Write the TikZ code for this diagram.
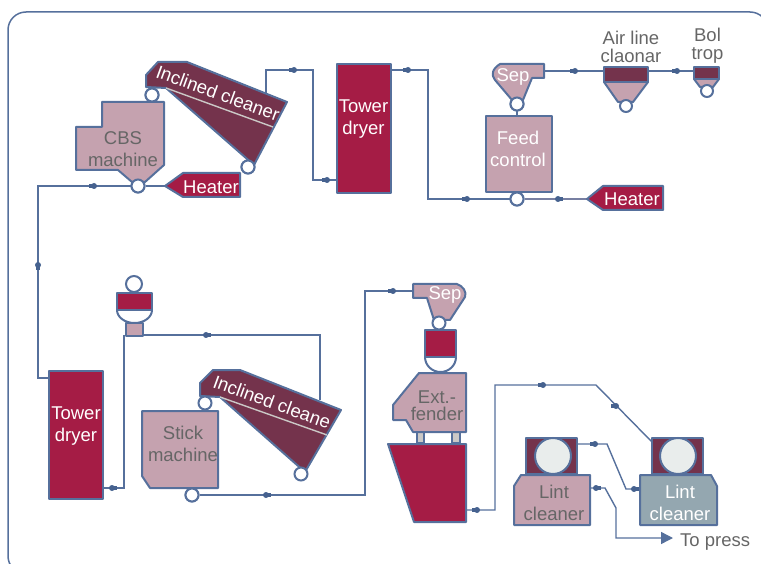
\documentclass[tikz,border=0pt]{standalone}
\usepackage{fontspec}
\usetikzlibrary{arrows.meta}
\setmainfont{Liberation Sans}
\definecolor{edge}{HTML}{56709C}
\definecolor{dotc}{HTML}{46628F}
\definecolor{pinkf}{HTML}{C5A2AF}
\definecolor{crim}{HTML}{A51C45}
\definecolor{maroon}{HTML}{74334C}
\definecolor{slate}{HTML}{94A7B0}
\definecolor{txt}{HTML}{666666}
\definecolor{bar}{HTML}{CBC8C6}
\definecolor{disc}{HTML}{E9EDEC}
\tikzset{
 x=1pt,y=-1pt,
 part/.style={draw=edge,line width=2pt,line join=round},
 pinkpart/.style={part,fill=pinkf},
 crimpart/.style={part,fill=crim},
 darkpart/.style={part,fill=maroon},
 conn/.style={draw=edge,line width=1.4pt},
 ring/.style={circle,draw=edge,line width=2pt,fill=white,inner sep=0pt,minimum size=13pt},
 bigdisc/.style={circle,draw=edge,line width=2pt,fill=disc,inner sep=0pt,minimum size=36pt},
 lbl/.style={font=\fontsize{18.5}{20}\selectfont,inner sep=0pt,text=txt,align=center},
 wlbl/.style={lbl,text=white},
 beadr/.pic={\fill[dotc] (0,0) circle (3pt); \fill[dotc] (-5,-1.6) rectangle (0,1.6);},
 beadl/.pic={\fill[dotc] (0,0) circle (3pt); \fill[dotc] (5,-1.6) rectangle (0,1.6);},
 beadu/.pic={\fill[dotc] (0,0) circle (3pt); \fill[dotc] (-1.6,0) rectangle (1.6,5);},
}
\begin{document}
\begin{tikzpicture}
\useasboundingbox (0,0) rectangle (761,564);
\begin{scope}
\clip (0,0) rectangle (761,564);
\draw[edge,line width=1.5pt,rounded corners=18pt] (8,12) rectangle (768,574);
\end{scope}
% junction coordinates
\coordinate (topleft) at (38,186);
\coordinate (td1in) at (337,180);
\coordinate (td1out) at (391,70);
\coordinate (td2in) at (49,378);
\coordinate (td2out) at (103,488);
% ---- top connectors (behind parts)
\node[ring] (cbsc) at (138,186) {};
\node[ring] (ic1top) at (152,95) {};
\node[ring] (ic1bot) at (248,167) {};
\node[ring] (feedc) at (517,199) {};
\node[ring] (sep1c) at (517,104) {};
\coordinate (h1tip) at (165,186);
\coordinate (h2tip) at (587,199);
\draw[conn] (cbsc.west) -- (topleft) -- (38,378) -- (td2in);
\draw[conn] (cbsc.east) -- (h1tip);
\draw[conn] (266,95) -- (266,70) -- (313,70) -- (313,180) -- (td1in);
\draw[conn] (td1out) -- (428,70) -- (428,199) -- (feedc.west);
\draw[conn,draw=edge!70!pinkf] (feedc.east) -- (h2tip);
\draw[conn] (sep1c.south) -- (517,116);
\coordinate (sep1out) at (544,71);
\coordinate (airin) at (604,71);
\coordinate (airout) at (648,71);
\coordinate (bolin) at (694,71);
\draw[conn] (sep1out) -- (airin);
\draw[conn] (airout) -- (bolin);
\pic at (94,186) {beadr};
\pic at (38,265) {beadu};
\pic at (294,70) {beadr};
\pic at (327,180) {beadr};
\pic at (408,70) {beadr};
\pic at (467,199) {beadr};
\pic at (558,199) {beadl};
\pic at (575,71) {beadr};
\pic at (677,71) {beadr};
% ---- CBS machine, cleaner, heater
\draw[pinkpart] (102,102) -- (164,102) -- (164,165) -- (145,182) -- (132,182) -- (118,170) -- (76,170) -- (76,127) -- (102,127) -- cycle;
\node[ring] at (138,186) {};
\node[lbl] (cbs) at (123,138) {CBS};
\node[lbl] (cbs2) at (123,160) {machine};
\draw[darkpart] (146,75) -- (158,62) -- (187,62) -- (287,102) -- (254,165) -- (166,88) -- (146,87) -- cycle;
\draw[bar,line width=1.4pt] (166,88) -- (273,127);
\node[ring] at (152,95) {};
\node[ring] at (248,167) {};
\node[wlbl,rotate=-20] (ic1) at (218,93) {Inclined cleaner};
\draw[crimpart] (165,186) -- (183,173) -- (240,173) -- (240,197) -- (183,197) -- cycle;
\node[wlbl] (h1) at (211,187) {Heater};
% ---- tower dryer 1
\draw[crimpart] (337,64) rectangle (391,193);
\node[wlbl,font=\fontsize{18.5}{22}\selectfont] (td1) at (363.5,119) {Tower\\dryer};
% ---- feed control
\draw[pinkpart] (486,116) rectangle (552,192);
\node[wlbl,font=\fontsize{18.5}{22}\selectfont] (feed) at (518,149) {Feed\\control};
\draw[pinkpart] (500,64) -- (544,64) -- (544,78) -- (532,78) -- (523,100) -- (512,100) -- (495,80) .. controls (491,75) and (492,69) .. (500,64) -- cycle;
\node[ring] at (517,104) {};
\node[ring] at (517,199) {};
\node[wlbl] (sep1) at (513,77) {Sep};
\draw[crimpart] (587,199) -- (603,186) -- (663,186) -- (663,210) -- (603,210) -- cycle;
\node[wlbl] (h2) at (632,199) {Heater};
% ---- air line
\draw[pinkpart] (604,82) -- (648,82) -- (633,102) -- (618,102) -- cycle;
\draw[darkpart] (604,67) rectangle (648,82);
\node[ring,minimum size=12pt] (airc) at (626,106) {};
\node[lbl,font=\fontsize{18.5}{18}\selectfont] (air) at (631,47) {Air line\\claonar};
\draw[pinkpart] (694,79) -- (719,79) -- (713,87) -- (700,87) -- cycle;
\draw[darkpart] (694,67) rectangle (719,79);
\node[ring,minimum size=12pt] (bolc) at (707,91) {};
\node[lbl,font=\fontsize{18.5}{18}\selectfont] (bol) at (707.5,45.5) {Bol\\trop};
% ---- lower left
\draw[crimpart] (49,371) rectangle (103,499);
\node[wlbl,font=\fontsize{18.5}{22}\selectfont] (td2) at (76,426) {Tower\\dryer};
\coordinate (boxl) at (124,335);
\coordinate (boxr) at (143,335);
\draw[conn] (boxr) -- (320,335) -- (320,400);
\draw[conn] (boxl) -- (124,488) -- (td2out);
\pic at (206,335) {beadl};
\pic at (112,488) {beadl};
\node[ring,minimum size=16pt] (tr) at (134,284) {};
\draw[part,fill=white] (117,310) arc[start angle=180,end angle=0,x radius=17.5,y radius=13];
\draw[crimpart] (117,293) rectangle (152,310);
\draw[pinkpart] (126,323) rectangle (143,336);
% ---- second cleaner, stick machine
\node[ring] (stickc) at (192,495) {};
\coordinate (sep2in) at (414,291);
\draw[conn] (stickc.east) -- (365,495) -- (365,291) -- (sep2in);
\pic at (266,495) {beadl};
\pic at (393,291) {beadr};
\draw[pinkpart] (142,411) -- (218,411) -- (218,488) -- (150,488) -- (142,476) -- cycle;
\node[ring] at (192,495) {};
\node[lbl,font=\fontsize{18.5}{22}\selectfont] (stick) at (183,444) {Stick\\machine};
\draw[darkpart] (200,383) -- (213,370) -- (240,370) -- (341,410) -- (305,472) -- (220,397) -- (200,396) -- cycle;
\draw[bar,line width=1.4pt] (220,397) -- (327,435);
\node[ring] (ic2t) at (205,403) {};
\node[ring] (ic2b) at (301,474) {};
\node[wlbl,rotate=-20] (ic2) at (272,402) {Inclined cleane};
% ---- extender column
\draw[pinkpart] (413,284) -- (457,284) .. controls (463,286) and (467,292) .. (465,297) -- (450,320) -- (434,320) -- (427,298) -- (413,298) -- cycle;
\node[ring] (sep2c) at (439,323) {};
\node[wlbl] (sep2) at (445,295) {Sep};
\draw[part,fill=white] (425,357) arc[start angle=180,end angle=0,x radius=15.5,y radius=15];
\draw[crimpart] (425,330) rectangle (456,357);
\draw[part,fill=bar] (417,432) rectangle (424,443);
\draw[part,fill=bar] (452,432) rectangle (460,443);
\draw[pinkpart] (419,373) -- (393,405) -- (393,420) -- (406,420) -- (413,432) -- (466,432) -- (466,373) -- cycle;
\node[lbl,font=\fontsize{18.5}{17.5}\selectfont] (ext) at (437,405.5) {Ext.-\\fender};
\coordinate (hopout) at (466,510);
\coordinate (lint2top) at (652,442);
\draw[conn] (hopout) -- (495,510) -- (495,385) -- (596,385) -- (lint2top);
\pic at (477,510) {beadr};
\pic at (543,385) {beadr};
\pic at (616,406) {beadr};
\draw[crimpart] (388,444) -- (466,444) -- (466,522) -- (414,522) -- cycle;
% ---- lint cleaners
\coordinate (l1a) at (577,444);
\coordinate (l2a) at (640,489);
\coordinate (l1b) at (590,488);
\coordinate (topress) at (673,538);
\draw[conn] (l1a) -- (607,444) -- (626,489) -- (l2a);
\draw[conn,-{Triangle[length=12pt,width=12pt]}] (l1b) -- (605,488) -- (616,508) -- (616,538) -- (topress);
\pic at (595,444) {beadr};
\pic at (634,489) {beadl};
\pic at (596,488) {beadl};
\draw[darkpart] (526,438) rectangle (577,474);
\node[bigdisc] (d1) at (553,456) {};
\draw[pinkpart] (514,486) -- (521,475) -- (590,475) -- (590,525) -- (514,525) -- cycle;
\node[lbl,font=\fontsize{18.5}{22}\selectfont] (lint1) at (554,503) {Lint\\cleaner};
\draw[darkpart] (652,438) rectangle (703,474);
\node[bigdisc] (d2) at (678,456) {};
\draw[part,fill=slate] (640,475) -- (711,475) -- (717,486) -- (717,525) -- (640,525) -- cycle;
\node[wlbl,font=\fontsize{18.5}{22}\selectfont] (lint2) at (680,502.5) {Lint\\cleaner};
\node[lbl,anchor=west] (press) at (680,542) {To press};
\end{tikzpicture}
\end{document}
